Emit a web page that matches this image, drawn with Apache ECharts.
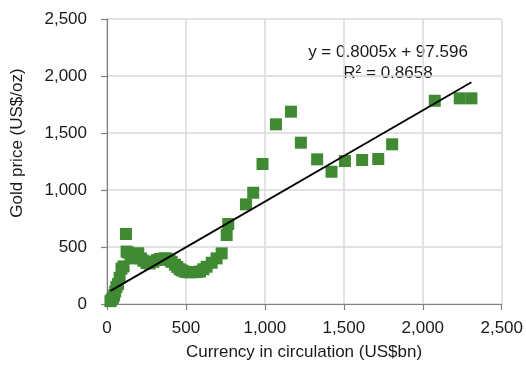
<!DOCTYPE html>
<html>
<head>
<meta charset="utf-8">
<script src="https://cdn.jsdelivr.net/npm/echarts@6/dist/echarts.min.js"></script>
<style>
  html, body { margin: 0; padding: 0; background: #ffffff; }
  #chart { width: 526px; height: 374px; }
</style>
</head>
<body>
<div id="chart"></div>
<script>
// Currency in circulation (US$bn) vs gold price (US$/oz)
const currency = [22, 30, 38, 45, 52, 60, 70, 80, 92, 105, 120, 124, 135, 150, 167, 185, 198, 215, 230, 250,
  270, 293, 315, 335, 360, 377, 395, 409, 430, 445, 460, 473, 490, 505, 525, 547, 570, 589, 610, 631,
  663, 694, 726, 758, 768, 880, 926, 985, 1070, 1165, 1228, 1331, 1422, 1507, 1616, 1718, 1806, 2076, 2234, 2308];
const goldPrice = [25, 40, 55, 75, 110, 150, 175, 230, 310, 330, 614, 460, 450, 400, 440, 420, 445, 400, 380, 360,
  355, 370, 385, 395, 400, 400, 385, 370, 345, 325, 305, 295, 285, 280, 278, 280, 280, 285, 305, 327,
  362, 400, 444, 605, 702, 874, 976, 1228, 1576, 1687, 1415, 1269, 1160, 1254, 1263, 1272, 1401, 1783, 1804, 1804];

// Linear trendline as stated by the equation label
const slope = 0.8005;
const intercept = 97.596;
const rSquared = 0.8658;

const axisTicks = [0, 500, 1000, 1500, 2000, 2500];

const points = currency.map((x, i) => [x, goldPrice[i]]);
const xMin = Math.min(...currency);
const xMax = Math.max(...currency);
const trend = [[xMin, slope * xMin + intercept], [xMax, slope * xMax + intercept]];

const FONT = '"Liberation Sans", Arial, sans-serif';
const TEXT = '#1a1a1a';
const fmt = v => v.toLocaleString('en-US');

const chart = echarts.init(document.getElementById('chart'), null, { renderer: 'canvas' });

const axisCommon = {
  type: 'value',
  min: axisTicks[0],
  max: axisTicks[axisTicks.length - 1],
  interval: axisTicks[1] - axisTicks[0],
  axisLine: { show: true, lineStyle: { color: '#808080', width: 1.2 } },
  axisTick: { show: true, inside: false, length: 6, lineStyle: { color: '#808080', width: 1.2 } },
  splitLine: { show: true, lineStyle: { color: '#d9d9d9', width: 1.5 } },
  axisLabel: { color: TEXT, fontFamily: FONT, fontSize: 17, formatter: fmt }
};

chart.setOption({
  animation: false,
  backgroundColor: '#ffffff',
  grid: { left: 107, right: 24, top: 19, bottom: 70, containLabel: false },
  xAxis: Object.assign({}, axisCommon, {
    axisLabel: Object.assign({}, axisCommon.axisLabel, { margin: 16 })
  }),
  yAxis: Object.assign({}, axisCommon, {
    axisLabel: Object.assign({}, axisCommon.axisLabel, { margin: 20 })
  }),
  series: [
    {
      type: 'scatter',
      data: points,
      symbol: 'rect',
      symbolSize: 12,
      itemStyle: { color: '#3f8a33', opacity: 1 },
      z: 2
    },
    {
      type: 'line',
      data: trend,
      showSymbol: false,
      symbol: 'none',
      lineStyle: { color: '#000000', width: 1.8 },
      z: 3
    }
  ],
  graphic: [
    {
      type: 'text', x: 388, y: 52,
      style: {
        text: 'y = ' + slope.toFixed(4) + 'x + ' + intercept.toFixed(3),
        fill: TEXT, font: '17px ' + FONT, textAlign: 'center', textVerticalAlign: 'middle'
      }
    },
    {
      type: 'text', x: 388, y: 73,
      style: {
        text: 'R\u00b2 = ' + rSquared.toFixed(4),
        fill: TEXT, font: '17px ' + FONT, textAlign: 'center', textVerticalAlign: 'middle'
      }
    },
    {
      type: 'text', x: 304, y: 352,
      style: {
        text: 'Currency in circulation (US$bn)',
        fill: TEXT, font: '17px ' + FONT, textAlign: 'center', textVerticalAlign: 'middle'
      }
    },
    {
      type: 'text', x: 17, y: 143, rotation: Math.PI / 2,
      style: {
        text: 'Gold price (US$/oz)',
        fill: TEXT, font: '17px ' + FONT, textAlign: 'center', textVerticalAlign: 'middle'
      }
    }
  ]
});
</script>
</body>
</html>
